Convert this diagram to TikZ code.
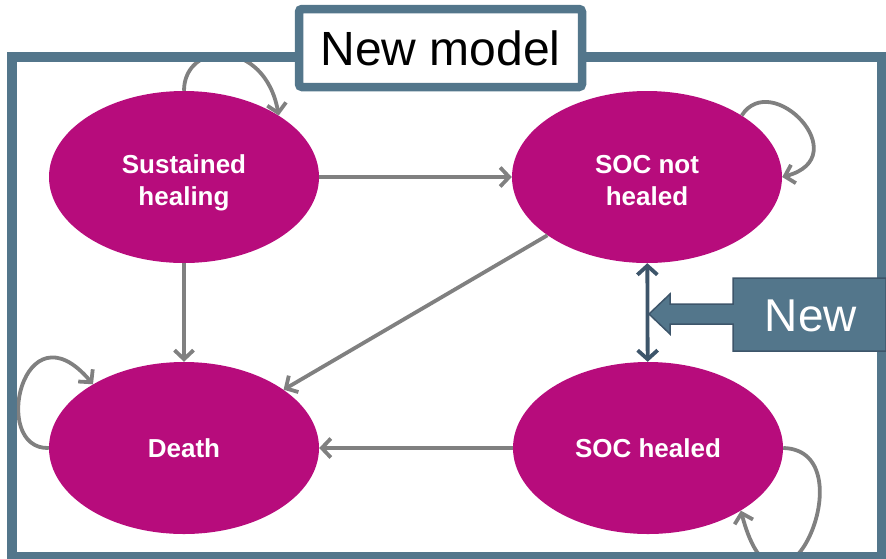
\documentclass[tikz,border=0pt]{standalone}
\usepackage{fontspec}
\setmainfont{Liberation Sans}
\usetikzlibrary{shapes.geometric,arrows.meta}
\definecolor{statemag}{HTML}{B70C7C}
\definecolor{frameblue}{HTML}{53768B}
\definecolor{darkblue}{HTML}{3D556A}
\definecolor{transgray}{HTML}{808080}

\begin{document}
\begin{tikzpicture}[
    x=1pt, y=-1pt,
    statenode/.style={
        ellipse,
        fill=statemag,
        inner sep=0pt,
        minimum width=270pt,
        minimum height=172pt,
        align=center,
        text=white,
        font=\fontsize{26}{32}\selectfont\bfseries
    },
    lowtext/.style={
        text height=57pt,
        text depth=0pt
    },
    trans/.style={
        draw=transgray,
        line width=3.8pt,
        -{Straight Barb[length=9pt,width=19pt]}
    }
]
\useasboundingbox (0,0) rectangle (886,558);

% 노드
\node[statenode, lowtext] (sust) at (184,177) {Sustained\\healing};
\node[statenode, lowtext] (socn) at (647,177) {SOC not\\healed};
\node[statenode] (death) at (184,448) {Death};
\node[statenode] (soch) at (648,448) {SOC healed};

% 간선
\draw[trans] (sust) -- (socn);
\draw[trans] (sust) -- (death);
\draw[trans] (socn) -- (death);
\draw[trans] (soch) -- (death);

% 자기 루프
\draw[trans] (sust.north) .. controls +(0,-50) and +(-14,-78) .. (sust.33);
\draw[trans] (socn.33) .. controls +(30,-47) and +(75,-20) .. (socn.east);
\draw[trans] (death.west) .. controls +(-59,2) and +(-70,-83) .. (death.145);
\draw[trans] (soch.east) .. controls +(87,2) and +(39,149) .. (soch.-34);

% 테두리
\draw[frameblue, line width=9.5pt] (12,57) rectangle (882,557);
\node[draw=frameblue, line width=8.5pt, fill=white, rounded corners=3pt,
      minimum width=283pt, minimum height=78pt,
      font=\fontsize{48}{56}\selectfont] (title) at (440.5,48) {New model};

% 새 전이
\draw[darkblue, line width=3.8pt, {Straight Barb[length=9pt,width=20pt]}-{Straight Barb[length=9pt,width=20pt]}] (socn) -- (soch);
\coordinate (newtip) at (649,314);
\filldraw[fill=frameblue, draw=darkblue, line width=1.5pt]
    (886,278) -- (733,278) -- (733,304) -- (670,304) -- (670,294) -- (newtip)
    -- (670,334) -- (670,324) -- (733,324) -- (733,351) -- (886,351) -- cycle;
\node[text=white, font=\fontsize{46}{54}\selectfont] (newtag) at (811,316) {New};

\end{tikzpicture}
\end{document}
